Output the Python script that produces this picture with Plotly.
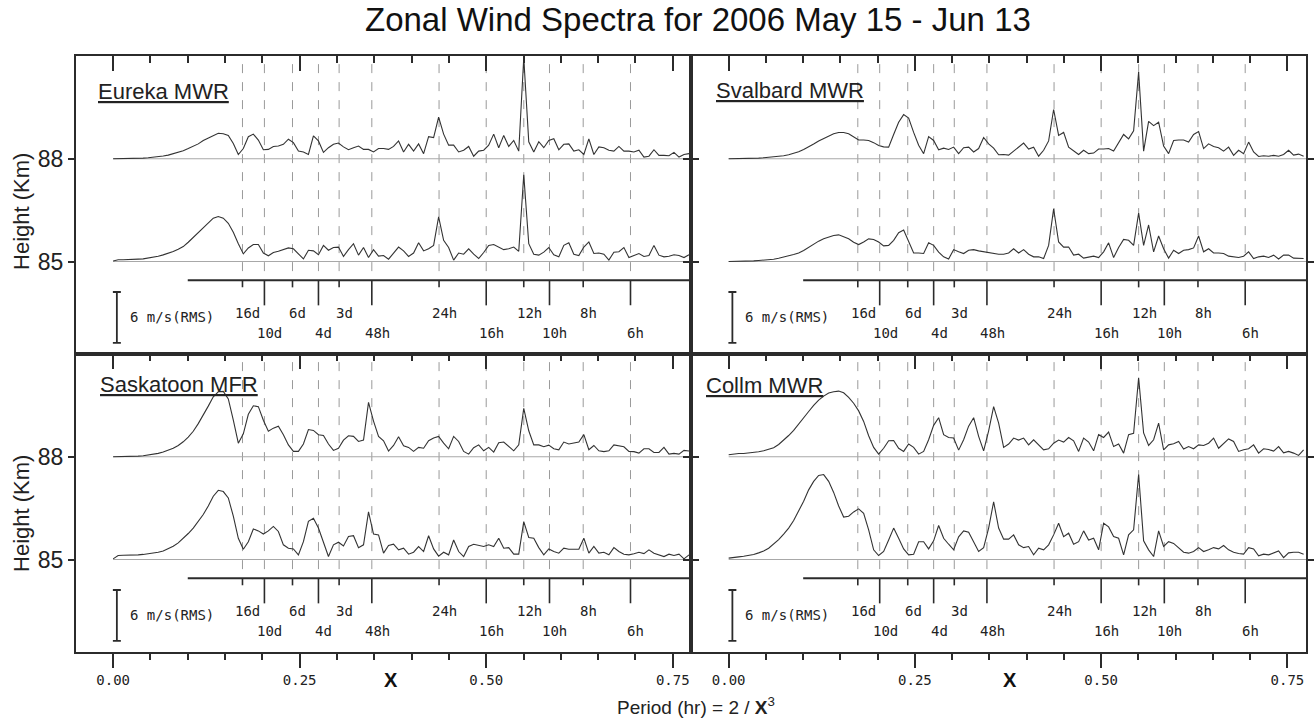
import numpy as np
import plotly.graph_objects as go

TITLE = "Zonal Wind Spectra for 2006 May 15 - Jun 13"
STATIONS = ["Eureka MWR", "Svalbard MWR", "Saskatoon MFR", "Collm MWR"]
HEIGHTS = [88, 85]          # km, baseline of each spectrum
DX = 0.5503 / 82            # spectral sample spacing in X (12h line at index 82)

# Spectral amplitudes, m/s (RMS), sampled every DX from X = 0
EUREKA_88 = [
    0, 0, 0, 0.02, 0.04, 0.05, 0.08, 0.12, 0.17, 0.24,
    0.32, 0.43, 0.6, 0.75, 0.95, 1.2, 1.45, 1.75, 2.15, 2.45,
    2.8, 3.0, 2.95, 2.75, 1.8, 0.5, 1.2, 2.6, 2.9, 2.2,
    1.06, 1.1, 1.45, 1.5, 1.7, 2.3, 1.9, 0.9, 0.8, 0.5,
    2.7, 2.1, 0.75, 1.3, 1.7, 1.85, 1.4, 1.06, 1.3, 1.5,
    1.1, 1.1, 0.8, 1.2, 1.2, 1.1, 1.45, 2.1, 0.8, 1.7,
    0.9, 1.75, 0.6, 2.6, 2.5, 4.9, 2.9, 1.6, 1.6, 0.8,
    1.0, 1.45, 0.3, 0.9, 1.0, 1.6, 2.9, 1.3, 2.75, 1.45,
    2.15, 0.9, 11.9, 2.0, 0.8, 2.0, 1.3, 2.15, 2.35, 1.06,
    1.7, 1.75, 0.9, 1.06, 0.5, 2.35, 0.5, 1.4, 1.3, 1.0,
    0.9, 1.45, 0.9, 0.9, 0.8, 1.0, 0.2, 0.3, 1.06, 0.4,
    0.4, 0.35, 0.75, 0.2, 0.5, 0.6,
]
EUREKA_85 = [
    0.05, 0.2, 0.2, 0.2, 0.24, 0.28, 0.31, 0.4, 0.47, 0.63,
    0.78, 0.94, 1.18, 1.45, 1.76, 2.27, 2.86, 3.45, 4.04, 4.6,
    5.1, 5.3, 5.1, 4.5, 3.45, 2.1, 0.9, 1.6, 2.0, 2.0,
    1.0, 0.67, 1.06, 1.2, 1.37, 1.6, 1.5, 0.94, 0.3, 1.33,
    1.25, 0.8, 1.9, 1.33, 1.65, 1.7, 0.6, 1.4, 2.1, 0.75,
    1.65, 0.47, 1.4, 0.63, 0.7, 0.27, 0.94, 1.7, 1.25, 0.6,
    1.0, 2.2, 1.25, 1.5, 1.9, 5.25, 2.5, 1.65, 0.16, 1.0,
    0.86, 1.5, 0.86, 0.35, 1.06, 1.9, 2.0, 1.7, 1.4, 1.5,
    1.7, 1.2, 10.2, 2.1, 0.86, 0.75, 1.1, 1.65, 0.8, 0.55,
    1.9, 2.2, 0.86, 0.7, 1.7, 2.3, 0.94, 1.0, 0.86, 0.16,
    1.1, 1.15, 1.65, 0.47, 0.7, 0.94, 0.6, 0.7, 1.9, 0.75,
    0.55, 0.63, 0.8, 0.7, 0.47, 0.8,
]
SVALBARD_88 = [
    0, 0, 0, 0.02, 0.04, 0.05, 0.08, 0.12, 0.16, 0.2,
    0.27, 0.35, 0.47, 0.63, 0.82, 1.1, 1.4, 1.73, 2.1, 2.4,
    2.7, 2.94, 3.1, 3.1, 2.94, 2.55, 2.2, 2.2, 2.15, 1.9,
    1.55, 1.4, 1.37, 2.86, 4.3, 5.2, 4.8, 3.1, 1.6, 0.6,
    2.6, 2.15, 1.06, 1.25, 1.1, 1.37, 0.6, 1.3, 1.37, 0.8,
    1.2, 2.5, 1.76, 1.25, 0.47, 0.5, 0.43, 0.9, 1.37, 1.85,
    1.14, 1.37, 0.3, 1.0, 2.1, 5.8, 2.75, 3.1, 1.37, 0.9,
    0.5, 1.0, 0.6, 0.67, 1.14, 1.14, 1.2, 0.9, 1.85, 2.86,
    2.35, 3.3, 10.2, 0.9, 4.4, 3.9, 4.3, 1.5, 0.6, 2.15,
    2.2, 2.2, 1.96, 2.86, 3.2, 1.2, 1.76, 1.45, 1.3, 0.9,
    1.37, 0.4, 1.0, 0.6, 1.96, 0.8, 0.27, 0.35, 0.3, 0.4,
    0.3, 0.5, 1.0, 0.43, 0.55, 0.3,
]
SVALBARD_85 = [
    0, 0, 0.04, 0.04, 0.04, 0.08, 0.12, 0.16, 0.24, 0.27,
    0.39, 0.5, 0.67, 0.82, 1.0, 1.3, 1.7, 2.04, 2.4, 2.67,
    2.9, 3.06, 3.14, 2.94, 2.67, 2.27, 2.0, 2.3, 2.67, 2.6,
    2.3, 1.84, 1.9, 2.5, 3.4, 3.7, 2.3, 1.0, 1.0, 0.94,
    2.2, 1.9, 1.1, 0.55, 0.3, 1.4, 1.14, 0.94, 1.33, 1.4,
    1.25, 1.14, 1.1, 1.0, 0.86, 0.86, 1.0, 1.5, 1.0, 1.4,
    0.86, 0.55, 0.55, 0.35, 1.9, 6.2, 2.3, 1.7, 1.7, 0.75,
    0.86, 0.4, 0.47, 0.63, 0.47, 1.14, 2.2, 0.47, 1.65, 2.6,
    2.5, 1.9, 5.7, 1.9, 4.3, 1.14, 3.0, 1.5, 0.4, 1.33,
    0.94, 1.33, 1.4, 1.6, 3.0, 1.14, 1.5, 1.0, 1.0, 0.94,
    0.63, 0.55, 0.47, 0.63, 1.14, 0.35, 0.55, 0.63, 0.47, 0.75,
    0.3, 0.75, 0.75, 0.4, 0.35, 0.35,
]
SASKATOON_88 = [
    0, 0, 0, 0.04, 0.04, 0.08, 0.12, 0.2, 0.27, 0.4,
    0.55, 0.75, 1.0, 1.33, 1.76, 2.3, 3.0, 3.9, 4.86, 5.96,
    7.06, 7.65, 7.7, 6.8, 4.3, 1.6, 2.7, 5.0, 6.0, 5.9,
    4.3, 3.0, 3.37, 3.6, 2.6, 1.4, 0.63, 0.63, 1.5, 3.2,
    3.1, 2.6, 2.5, 1.5, 0.75, 1.0, 1.96, 2.47, 2.4, 1.8,
    1.96, 6.4, 4.2, 2.4, 1.88, 0.67, 1.33, 2.35, 1.3, 1.1,
    0.63, 1.1, 1.0, 1.88, 2.2, 2.4, 1.6, 0.94, 2.4, 1.8,
    0.63, 0.31, 1.06, 1.4, 0.7, 1.1, 0.55, 1.65, 1.73, 1.2,
    0.7, 1.4, 5.7, 3.06, 1.4, 1.4, 1.18, 1.37, 0.94, 0.82,
    1.73, 1.5, 1.65, 1.73, 2.6, 0.82, 1.33, 0.7, 0.6, 0.7,
    1.4, 1.33, 1.18, 0.63, 0.6, 0.43, 0.94, 0.94, 0.5, 0.5,
    1.1, 0.31, 0.4, 0.31, 0.75, 0.67,
]
SASKATOON_85 = [
    0.08, 0.47, 0.5, 0.5, 0.5, 0.55, 0.6, 0.67, 0.75, 0.86,
    1.0, 1.25, 1.57, 1.96, 2.47, 3.06, 3.7, 4.5, 5.3, 6.3,
    7.45, 8.15, 8.0, 7.25, 5.1, 2.5, 1.2, 2.1, 3.6, 3.37,
    3.0, 3.37, 3.9, 3.3, 1.73, 1.33, 1.25, 0.55, 2.1, 4.5,
    4.86, 3.7, 1.9, 0.35, 1.73, 2.04, 1.6, 2.7, 2.8, 1.4,
    1.73, 5.6, 3.0, 2.9, 0.75, 1.65, 1.8, 1.14, 1.33, 0.63,
    0.86, 1.53, 0.94, 2.8, 1.25, 0.4, 0.86, 0.55, 2.3, 0.94,
    0.35, 1.53, 1.8, 1.65, 1.53, 1.73, 1.53, 2.5, 1.33, 1.4,
    0.63, 0.63, 4.47, 2.6, 2.5, 1.4, 0.55, 1.25, 0.94, 0.75,
    1.33, 1.2, 1.2, 1.2, 2.5, 0.75, 1.53, 0.75, 0.86, 0.55,
    1.4, 0.94, 0.63, 0.55, 0.67, 0.86, 0.7, 1.14, 0.75, 0.55,
    0.35, 0.63, 0.47, 0.63, 0.08, 0.55,
]
COLLM_88 = [
    0.24, 0.35, 0.39, 0.39, 0.43, 0.47, 0.59, 0.7, 0.86, 1.06,
    1.45, 1.96, 2.5, 3.1, 3.8, 4.6, 5.33, 6.04, 6.67, 7.14,
    7.5, 7.65, 7.73, 7.53, 7.0, 6.3, 5.4, 4.16, 2.47, 1.1,
    0.31, 1.0, 1.88, 1.92, 1.0, 0.63, 1.5, 1.1, 0.31, 0.63,
    2.0, 3.7, 4.6, 2.6, 2.27, 2.2, 0.78, 2.0, 3.6, 4.6,
    2.4, 0.7, 3.06, 5.9, 3.96, 1.1, 1.5, 2.2, 1.96, 2.2,
    1.4, 2.0, 1.4, 0.82, 0.94, 1.6, 1.96, 1.73, 2.27, 1.88,
    0.63, 2.2, 1.73, 0.7, 2.6, 2.27, 2.9, 1.2, 1.5, 0.43,
    2.6, 2.75, 9.3, 2.8, 1.33, 2.0, 3.96, 0.82, 1.4, 1.53,
    1.8, 0.9, 1.2, 0.94, 1.4, 1.33, 1.6, 2.2, 1.0, 1.57,
    2.1, 1.8, 0.63, 0.82, 0.94, 1.4, 0.43, 0.94, 0.86, 0.67,
    1.2, 0.47, 0.63, 0.43, 0.16, 0.82,
]
COLLM_85 = [
    0.16, 0.27, 0.31, 0.39, 0.47, 0.59, 0.78, 1.0, 1.33, 1.8,
    2.35, 3.0, 3.7, 4.6, 5.7, 6.86, 8.2, 9.2, 9.9, 10.0,
    9.2, 7.9, 6.3, 5.0, 5.1, 5.6, 5.96, 5.45, 3.5, 1.14,
    0.47, 0.94, 2.3, 3.7, 2.5, 1.25, 0.55, 0.63, 2.1, 2.1,
    1.25, 2.2, 4.0, 2.5, 1.8, 1.14, 2.67, 3.37, 3.2, 2.1,
    0.94, 1.4, 3.7, 6.8, 3.7, 2.4, 2.4, 2.9, 1.73, 1.4,
    1.53, 0.55, 1.33, 1.14, 1.73, 2.9, 4.27, 2.7, 3.1, 1.8,
    2.1, 3.37, 2.3, 2.5, 1.14, 4.27, 3.84, 2.7, 2.5, 0.55,
    2.9, 3.5, 10.0, 2.2, 1.14, 0.35, 3.37, 1.53, 2.1, 1.9,
    1.4, 0.86, 0.75, 0.94, 1.4, 0.94, 1.14, 1.4, 1.25, 1.65,
    1.14, 0.86, 0.7, 0.63, 1.4, 1.25, 0.43, 0.63, 0.55, 0.75,
    1.0, 0.23, 0.78, 0.86, 0.86, 0.63,
]
SPECTRA = [
    (EUREKA_88, EUREKA_85),
    (SVALBARD_88, SVALBARD_85),
    (SASKATOON_88, SASKATOON_85),
    (COLLM_88, COLLM_85),
]

PERIOD_LABELS = ["16d", "10d", "6d", "4d", "3d", "48h", "24h", "16h", "12h", "10h", "8h", "6h"]
PERIOD_HOURS = [384, 240, 144, 96, 72, 48, 24, 16, 12, 10, 8, 6]
PERIOD_ROW = [0, 1, 0, 1, 0, 1, 0, 1, 0, 1, 0, 1]   # 0 upper label / short tick, 1 lower / long

X_TICKS = [0.0, 0.25, 0.50, 0.75]
X_TICK_TEXT = ["0.00", "0.25", "0.50", "0.75"]
SCALE_MS = 6  # m/s (RMS) scale bar

# ---------------- geometry / style ----------------
W, H = 1314, 721
AMP = 0.248                 # km of plot height per m/s
XR = [-0.05, 0.775]
YR = [82.3, 91.0]
COLS = [(76, 693), (693, 1309)]
ROWS = [(56, 354), (354, 652)]
INK = "#2b2b2b"
MONO = "DejaVu Sans Mono, monospace"
SANS = "Liberation Sans, Arial, sans-serif"

MINOR = [round(v, 2) for v in np.arange(0.05, 0.76, 0.05) if round(v, 2) not in X_TICKS]
PX_PER_KM = (ROWS[0][1] - ROWS[0][0]) / (YR[1] - YR[0])
PX_PER_X = (COLS[0][1] - COLS[0][0]) / (XR[1] - XR[0])

SCALE_Y = 84.45
SHORT_T = 7 / PX_PER_KM
LONG_T = 25 / PX_PER_KM
LABEL_Y = [83.49, 82.92]
DASH_Y = [84.72, 91.0]
BAR_X = 0.005
BAR_TOP = 84.11

fig = go.Figure()
layout = {}
annotations = []


def line(xs, ys, xa, ya, color=INK, width=1.1, dash=None):
    fig.add_trace(go.Scatter(x=xs, y=ys, mode="lines", xaxis=xa, yaxis=ya,
                             line=dict(color=color, width=width, dash=dash),
                             hoverinfo="skip", showlegend=False))


for i in range(4):
    col, row = i % 2, i // 2
    n = "" if i == 0 else str(i + 1)
    xa, ya = "x" + n, "y" + n
    (x0, x1), (y0, y1) = COLS[col], ROWS[row]
    layout["xaxis" + n] = dict(
        domain=[x0 / W, x1 / W], range=XR, anchor=ya, side="top",
        ticks="inside", ticklen=15, tickwidth=2, tickcolor=INK,
        tickmode="array", tickvals=X_TICKS, showticklabels=False,
        showline=True, linewidth=2, linecolor=INK, mirror=True,
        showgrid=False, zeroline=False,
        minor=dict(tickmode="array", tickvals=MINOR, ticks="inside", ticklen=7,
                   tickwidth=1.5, tickcolor=INK, showgrid=False),
    )
    layout["yaxis" + n] = dict(
        domain=[1 - y1 / H, 1 - y0 / H], range=YR, anchor=xa,
        ticks="outside", ticklen=6, tickwidth=1.5, tickcolor=INK,
        tickmode="array", tickvals=HEIGHTS, showticklabels=(col == 0),
        tickfont=dict(family=SANS, size=23, color="#222"),
        showline=True, linewidth=2, linecolor=INK, mirror="ticks",
        showgrid=False, zeroline=False,
    )

    # dashed period guides
    px_, py_ = [], []
    for p in PERIOD_HOURS:
        xp = (2.0 / p) ** (1 / 3)
        px_ += [xp, xp, None]
        py_ += [DASH_Y[0], DASH_Y[1], None]
    line(px_, py_, xa, ya, color="#9a9a9a", width=1, dash="9px,9px")

    # baselines
    for h in HEIGHTS:
        line([0, XR[1]], [h, h], xa, ya, color="#a8a8a8", width=1.2)

    # spectra
    for h, vals in zip(HEIGHTS, SPECTRA[i]):
        xs = np.arange(len(vals)) * DX
        line(xs, h + AMP * np.array(vals), xa, ya, color="#333333", width=1.1)

    # period scale
    line([0.1, XR[1]], [SCALE_Y, SCALE_Y], xa, ya, color=INK, width=2)
    tx, ty = [], []
    for p, r in zip(PERIOD_HOURS, PERIOD_ROW):
        xp = (2.0 / p) ** (1 / 3)
        tx += [xp, xp, None]
        ty += [SCALE_Y, SCALE_Y - (LONG_T if r else SHORT_T), None]
    line(tx, ty, xa, ya, color=INK, width=1.6)
    for lab, p, r in zip(PERIOD_LABELS, PERIOD_HOURS, PERIOD_ROW):
        xp = (2.0 / p) ** (1 / 3)
        annotations.append(dict(x=xp, y=LABEL_Y[r], xref=xa, yref=ya, text=lab,
                                showarrow=False, xshift=5.5, xanchor="center", yanchor="middle",
                                font=dict(family=MONO, size=14, color="#222")))

    # amplitude scale bar
    bar_bot = BAR_TOP - SCALE_MS * AMP
    cap = 4 / PX_PER_X
    line([BAR_X, BAR_X, None, BAR_X - cap, BAR_X + cap, None, BAR_X - cap, BAR_X + cap],
         [bar_bot, BAR_TOP, None, BAR_TOP, BAR_TOP, None, bar_bot, bar_bot], xa, ya, color=INK, width=1.8)
    annotations.append(dict(x=BAR_X + 11 / PX_PER_X, y=(bar_bot + BAR_TOP) / 2 + 0.02, xref=xa, yref=ya,
                            text=f"{SCALE_MS} m/s(RMS)", showarrow=False, xanchor="left", yanchor="middle",
                            font=dict(family=MONO, size=14, color="#222")))

# bottom labelled axes (overlaying the lower panels)
for k, base in ((5, "3"), (6, "4")):
    layout[f"xaxis{k}"] = dict(
        overlaying="x" + base, anchor="y" + base, side="bottom", range=XR,
        ticks="outside", ticklen=15, tickwidth=2, tickcolor=INK,
        tickmode="array", tickvals=X_TICKS, ticktext=X_TICK_TEXT,
        tickfont=dict(family=MONO, size=14, color="#222"),
        showline=False, showgrid=False, zeroline=False,
        minor=dict(tickmode="array", tickvals=MINOR, ticks="outside", ticklen=7,
                   tickwidth=1.5, tickcolor=INK, showgrid=False),
    )
    fig.add_trace(go.Scatter(x=[0], y=[85], mode="lines", xaxis=f"x{k}", yaxis="y" + base,
                             hoverinfo="skip", showlegend=False))

# station names
NAME_POS = [(96, 92), (716, 91), (98, 384), (706, 385)]
for name, (nx, ny) in zip(STATIONS, NAME_POS):
    annotations.append(dict(x=nx / W, y=1 - ny / H, xref="paper", yref="paper",
                            text=f"<u>{name}</u>", showarrow=False, xanchor="left", yanchor="middle",
                            font=dict(family=SANS, size=22, color="#222")))

# paper labels
annotations.append(dict(x=700 / W, y=1 - 20 / H, xref="paper", yref="paper", text=TITLE,
                        showarrow=False, xanchor="center", yanchor="middle",
                        font=dict(family=SANS, size=33, color="#111")))
for yc in (211, 513):
    annotations.append(dict(x=21 / W, y=1 - yc / H, xref="paper", yref="paper", text="Height (Km)",
                            textangle=-90, showarrow=False, xanchor="center", yanchor="middle",
                            font=dict(family=SANS, size=22, color="#222")))
for xc in (392, 1012):
    annotations.append(dict(x=xc / W, y=1 - 680 / H, xref="paper", yref="paper", text="<b>X</b>",
                            showarrow=False, xanchor="center", yanchor="middle",
                            font=dict(family=SANS, size=20, color="#111")))
annotations.append(dict(x=698 / W, y=1 - 706 / H, xref="paper", yref="paper",
                        text="Period (hr) = 2 / <b>X</b><sup>3</sup>",
                        showarrow=False, xanchor="center", yanchor="middle",
                        font=dict(family=SANS, size=19, color="#222")))

fig.update_layout(
    width=W, height=H, margin=dict(l=0, r=0, t=0, b=0),
    paper_bgcolor="white", plot_bgcolor="white",
    annotations=annotations, showlegend=False, **layout,
)
fig.write_html("out.html", config={"displayModeBar": False},
               post_script="document.body.style.margin='0';document.body.style.overflow='hidden';")
